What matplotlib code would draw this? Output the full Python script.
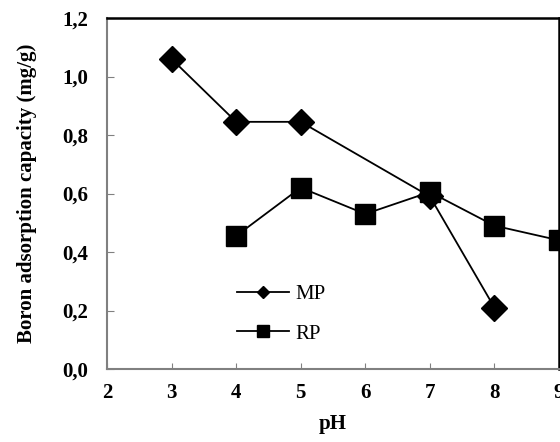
import matplotlib
matplotlib.use("Agg")
import matplotlib.pyplot as plt
from matplotlib.lines import Line2D

plt.rcParams['font.family'] = ['Liberation Serif', 'DejaVu Serif']

ph_mp = [3, 4, 5, 7, 8]
mp = [1.06, 0.845, 0.845, 0.59, 0.21]
ph_rp = [4, 5, 6, 7, 8, 9]
rp = [0.455, 0.62, 0.53, 0.605, 0.49, 0.44]
xticks = [2, 3, 4, 5, 6, 7, 8, 9]
yticks = [0.0, 0.2, 0.4, 0.6, 0.8, 1.0, 1.2]
ytick_labels = ['0,0', '0,2', '0,4', '0,6', '0,8', '1,0', '1,2']
series_names = ['MP', 'RP']

fig = plt.figure(figsize=(5.6, 4.42), dpi=100)
ax = fig.add_axes([107/560, 1-369/442, (559-107)/560, (369-18)/442])

ax.plot(ph_mp, mp, color='black', lw=1.3, marker='D', markersize=13, clip_on=False, zorder=3)
ax.plot(ph_rp, rp, color='black', lw=1.3, marker='s', markersize=14.5, clip_on=False, zorder=3)

h1 = Line2D([], [], color='black', lw=1.3, marker='D', markersize=6.5)
h2 = Line2D([], [], color='black', lw=1.3, marker='s', markersize=8)
leg = ax.legend([h1, h2], series_names, loc='center left', bbox_to_anchor=(0.288, 0.156),
                frameon=False, prop={'family': 'Liberation Serif', 'size': 15},
                handlelength=2.5, labelspacing=0.95, handletextpad=0.3,
                borderpad=0, borderaxespad=0)

ax.set_xlim(2, 9)
ax.set_ylim(0, 1.2)
ax.set_xticks(xticks)
ax.set_yticks(yticks)
ax.set_yticklabels(ytick_labels)
for lab in ax.get_xticklabels() + ax.get_yticklabels():
    lab.set_fontweight('bold')
    lab.set_fontsize(15)

ax.tick_params(axis='x', direction='in', length=4, color='#808080', pad=10)
ax.tick_params(axis='y', direction='in', length=5, color='#808080', pad=13.5)
ax.spines['left'].set_color('#808080')
ax.spines['bottom'].set_color('#808080')
ax.spines['left'].set_linewidth(1.5)
ax.spines['bottom'].set_linewidth(1.5)
ax.spines['top'].set_linewidth(1.8)
ax.spines['right'].set_linewidth(1.8)

ax.set_xlabel('pH', fontweight='bold', fontsize=15, labelpad=8)
ax.set_ylabel('Boron adsorption capacity (mg/g)', fontweight='bold', fontsize=15, labelpad=18)

fig.savefig('out.png', dpi=100)
